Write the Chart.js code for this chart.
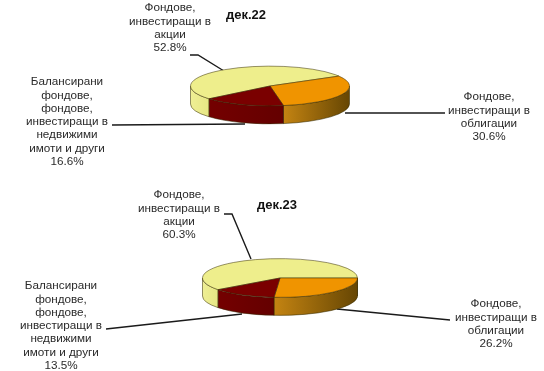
<!DOCTYPE html>
<html>
<head>
<meta charset="utf-8">
<script src="https://cdn.jsdelivr.net/npm/chart.js@4"></script>
<style>
    html, body { margin: 0; padding: 0; background: #fff; }
    canvas { position: absolute; left: 0; }
</style>
</head>
<body>
<canvas id="pie22" width="544" height="186" style="top:0"></canvas>
<canvas id="pie23" width="544" height="185" style="top:186px"></canvas>
<script>
const categories = ['Фондове, инвестиращи в акции', 'Фондове, инвестиращи в облигации', 'Балансирани фондове, фондове, инвестиращи в недвижими имоти и други'];
const values22 = [52.8, 30.6, 16.6];
const values23 = [60.3, 26.2, 13.5];
const titles = ['дек.22', 'дек.23'];

const sliceColors = ['#eeee8c', '#f09400', '#7a0000'];
const labelLines = [
    ['Фондове,', 'инвестиращи в', 'акции'],
    ['Фондове,', 'инвестиращи в', 'облигации'],
    ['Балансирани', 'фондове,', 'фондове,', 'инвестиращи в', 'недвижими', 'имоти и други']
];

const SQUASH = 0.25;   // how flat the tilted disc looks
const DEPTH = 18;      // height of the disc wall

// side wall of the disc, only the part facing the viewer
function drawWalls(chart) {
    const ctx = chart.ctx;
    const arcs = chart.getDatasetMeta(0).data;
    arcs.forEach((arc, i) => {
        const rx = arc.outerRadius;
        const ry = rx * SQUASH;
        for (let k = -1; k <= 1; k++) {
            const lo = Math.max(arc.startAngle + k * 2 * Math.PI, 0);
            const hi = Math.min(arc.endAngle + k * 2 * Math.PI, Math.PI);
            if (hi <= lo) continue;
            const x0 = arc.x + rx * Math.cos(hi);
            const x1 = arc.x + rx * Math.cos(lo);
            const grad = ctx.createLinearGradient(x0, 0, x1, 0);
            if (i === 1) {
                grad.addColorStop(0, '#c48412');
                grad.addColorStop(1, '#664603');
            } else if (i === 2) {
                grad.addColorStop(0, '#740000');
                grad.addColorStop(1, '#640000');
            } else {
                grad.addColorStop(0, '#efef94');
                grad.addColorStop(1, '#e6e684');
            }
            ctx.beginPath();
            ctx.ellipse(arc.x, arc.y, rx, ry, 0, lo, hi);
            ctx.ellipse(arc.x, arc.y + DEPTH, rx, ry, 0, hi, lo, true);
            ctx.closePath();
            ctx.fillStyle = grad;
            ctx.fill();
            ctx.strokeStyle = 'rgba(50,40,0,0.75)';
            ctx.lineWidth = 0.7;
            ctx.stroke();
        }
    });
}

const flatPie = {
    id: 'flatPie',
    beforeDatasetsDraw(chart, args, opts) {
        const ctx = chart.ctx;
        const arc = chart.getDatasetMeta(0).data[0];

        // leader lines go under the disc
        ctx.save();
        ctx.strokeStyle = '#1a1a1a';
        ctx.lineWidth = 1.4;
        opts.leaders.forEach(pts => {
            ctx.beginPath();
            pts.forEach((p, i) => i ? ctx.lineTo(p[0], p[1]) : ctx.moveTo(p[0], p[1]));
            ctx.stroke();
        });
        ctx.restore();

        drawWalls(chart);

        ctx.save();
        ctx.translate(0, arc.y);
        ctx.scale(1, SQUASH);
        ctx.translate(0, -arc.y);
    },
    afterDatasetsDraw(chart, args, opts) {
        const ctx = chart.ctx;
        ctx.restore();

        // slice labels
        ctx.save();
        ctx.font = '11.7px "Liberation Sans"';
        ctx.fillStyle = '#2a2a2a';
        ctx.textAlign = 'center';
        ctx.textBaseline = 'middle';
        opts.labels.forEach((pos, i) => {
            const lines = labelLines[i].concat(chart.data.datasets[0].data[i].toFixed(1) + '%');
            lines.forEach((t, n) => ctx.fillText(t, pos[0], pos[1] + n * 13.3));
        });
        ctx.font = 'bold 13px "Liberation Sans"';
        ctx.fillStyle = '#111';
        ctx.fillText(opts.title, opts.titlePos[0], opts.titlePos[1]);
        ctx.restore();
    }
};

function makePie(id, values, rotation, padding, pieOpts) {
    return new Chart(document.getElementById(id), {
        type: 'pie',
        data: {
            labels: categories,
            datasets: [{
                data: values,
                backgroundColor: sliceColors,
                borderColor: 'rgba(50,40,0,0.8)',
                borderWidth: 1
            }]
        },
        options: {
            responsive: false,
            animation: false,
            rotation: rotation,
            layout: { padding: padding },
            plugins: {
                legend: { display: false },
                tooltip: { enabled: false },
                flatPie: pieOpts
            }
        },
        plugins: [flatPie]
    });
}

makePie('pie22', values22, 230, { left: 190, right: 194, top: 6, bottom: 20 }, {
    title: titles[0],
    titlePos: [246, 15],
    labels: [[170, 8], [489, 97], [67, 82]],
    leaders: [
        [[190, 55], [198, 55], [224, 71]],
        [[345, 113], [445, 113]],
        [[112, 125], [245, 124]]
    ]
});

// second canvas starts at y=186
makePie('pie23', values23, 233, { left: 202, right: 186, top: 14, bottom: 15 }, {
    title: titles[1],
    titlePos: [277, 19],
    labels: [[179, 9], [496, 118], [61, 100]],
    leaders: [
        [[224, 28], [232, 28], [251, 73]],
        [[337, 123], [450, 134]],
        [[106, 143], [242, 128]]
    ]
});
</script>
</body>
</html>
